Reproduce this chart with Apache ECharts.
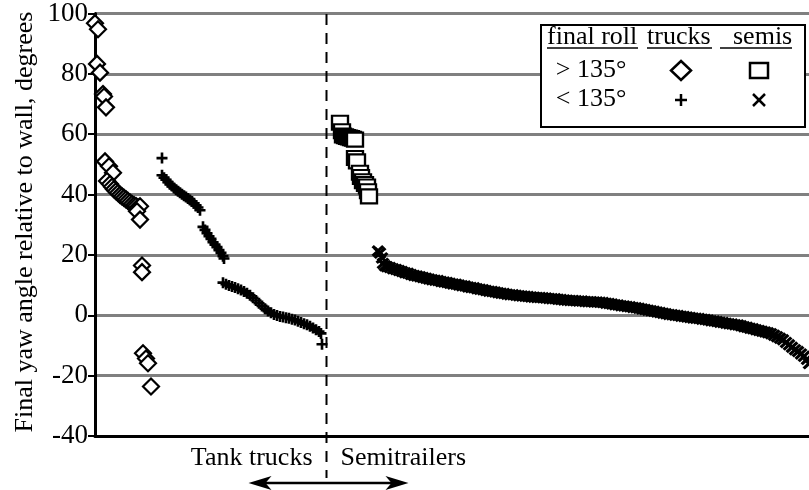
<!DOCTYPE html>
<html>
<head>
<meta charset="utf-8">
<script src="https://cdn.jsdelivr.net/npm/echarts@6/dist/echarts.min.js"></script>
<style>
  html, body { margin: 0; padding: 0; background: #fff; }
  #chart { width: 809px; height: 490px; }
</style>
</head>
<body>
<div id="chart"></div>
<script>
// x = case rank (sorted by yaw angle), y = final yaw angle, degrees
const yTicks = [-40, -20, 0, 20, 40, 60, 80, 100];

// tank trucks, final roll > 135
const truckHighRoll = [
  [0, 96.8], [3, 94.8], [2, 83.3], [5, 80.4], [8, 73.3], [9, 72.5], [11, 68.9],
  [10, 51], [14, 49.4], [18, 47.2], [12, 44.5], [15, 43.5], [17, 42.6], [19, 41.8],
  [21, 41.1], [23, 40.5], [25, 39.9], [27, 39.4], [29, 38.9], [31, 38.4], [33, 37.9],
  [35, 37.4], [37, 36.9], [39, 36.5], [41, 36.2], [43, 35.8], [45, 36.1], [42, 34.5],
  [45, 31.7], [47, 16.5], [47, 14.3], [48, -12.6], [51, -14.3], [53, -15.9], [56, -23.6]
];

// tank trucks, final roll < 135
const truckLowRoll = [
  [67, 52.1],
  [67, 46.4], [69, 45.6], [71, 44.9], [73, 44.1], [75, 43.4], [77, 42.8], [79, 42.2],
  [81, 41.6], [83, 41.1], [85, 40.6], [87, 40.1], [89, 39.6], [91, 39.2], [93, 38.7],
  [95, 38.2], [97, 37.7], [99, 37.1], [101, 36.4], [103, 35.7], [105, 34.8],
  [108, 29.3], [110, 28.3], [112, 27.2], [114, 26.2], [116, 25.3], [118, 24.2],
  [120, 23.4], [122, 22.6], [124, 21.6], [126, 20.7], [128, 19.6], [129, 18.8],
  [128, 10.8], [131, 10.3], [134, 9.9], [137, 9.5], [140, 9.2], [143, 8.8], [146, 8.4],
  [149, 7.9], [152, 7.3], [155, 6.6], [158, 5.8], [161, 4.9], [164, 4.0], [167, 3.1],
  [170, 2.2], [173, 1.4], [176, 0.8], [179, 0.3], [182, -0.1], [185, -0.4], [188, -0.6],
  [191, -0.8], [194, -1.0], [197, -1.3], [200, -1.6], [203, -2.0], [206, -2.4],
  [209, -2.8], [212, -3.1], [215, -3.6], [218, -4.2], [221, -4.8], [224, -5.4],
  [226, -6.0], [227, -9.6]
];

// semitrailers, final roll > 135
const semiHighRoll = [
  [245, 63.8], [247, 61.0], [248, 59.6], [250, 59.3], [252, 59.1], [254, 58.9],
  [256, 58.7], [258, 58.5], [260, 58.2], [260, 52.1], [262, 51.0], [265, 47.2],
  [266, 45.8], [268, 44.4], [270, 43.5], [272, 42.7], [273, 41.1], [274, 39.4]
];

// semitrailers, final roll < 135
const semiLowRoll = [
  [283, 21.3], [285, 20.6], [287, 19.0], [288, 17.2], [290, 16.4], [292, 16.1],
  [295, 15.8], [298, 15.4], [301, 15.2], [304, 14.8], [307, 14.5], [310, 14.1],
  [313, 13.9], [316, 13.5], [319, 13.2], [322, 13.0], [325, 12.8], [328, 12.5],
  [331, 12.3], [334, 12.0], [337, 11.8], [340, 11.6], [343, 11.5], [346, 11.2],
  [349, 11.0], [352, 10.9], [355, 10.6], [358, 10.4], [361, 10.3], [364, 10.0],
  [367, 9.8], [370, 9.7], [373, 9.4], [376, 9.2], [379, 9.1], [382, 8.8],
  [385, 8.6], [388, 8.5], [391, 8.2], [394, 8.0], [397, 7.9], [400, 7.7],
  [403, 7.5], [406, 7.3], [409, 7.2], [412, 7.0], [415, 6.8], [418, 6.8],
  [421, 6.6], [424, 6.5], [427, 6.4], [430, 6.3], [433, 6.2], [436, 6.1],
  [439, 6.0], [442, 5.9], [445, 5.9], [448, 5.8], [451, 5.7], [454, 5.6],
  [457, 5.5], [460, 5.5], [463, 5.3], [466, 5.2], [469, 5.1], [472, 5.0],
  [475, 4.9], [478, 4.9], [481, 4.8], [484, 4.7], [487, 4.7], [490, 4.6],
  [493, 4.5], [496, 4.5], [499, 4.4], [502, 4.4], [505, 4.3], [508, 4.2],
  [511, 4.0], [514, 3.9], [517, 3.7], [520, 3.5], [523, 3.4], [526, 3.2],
  [529, 3.1], [532, 2.9], [535, 2.8], [538, 2.6], [541, 2.5], [544, 2.3],
  [547, 2.1], [550, 1.9], [553, 1.7], [556, 1.5], [559, 1.3], [562, 1.1],
  [565, 0.9], [568, 0.7], [571, 0.5], [574, 0.3], [577, 0.2], [580, 0.0],
  [583, -0.1], [586, -0.3], [589, -0.4], [592, -0.6], [595, -0.7], [598, -0.9],
  [601, -1.0], [604, -1.1], [607, -1.3], [610, -1.4], [613, -1.6], [616, -1.8],
  [619, -1.9], [622, -2.1], [625, -2.3], [628, -2.4], [631, -2.6], [634, -2.8],
  [637, -2.9], [640, -3.1], [643, -3.2], [646, -3.5], [649, -3.8], [652, -4.0],
  [655, -4.3], [658, -4.5], [661, -4.8], [664, -5.0], [667, -5.3], [670, -5.5],
  [673, -5.8], [676, -6.1], [679, -6.6], [682, -7.1], [685, -7.6], [688, -8.1],
  [691, -9.0], [694, -9.8], [697, -10.6], [700, -11.4], [703, -12.0], [706, -12.8],
  [709, -13.6], [712, -14.6], [714, -16.0]
];

const splitRank = 231; // boundary between tank trucks and semitrailers

const FONT = '"Liberation Serif", "Times New Roman", serif';
const plusPath = 'path://M3.8,0H6.2V3.8H10V6.2H6.2V10H3.8V6.2H0V3.8H3.8Z';
const crossPath = 'path://M0,1.8L1.8,0L5,3.2L8.2,0L10,1.8L6.8,5L10,8.2L8.2,10L5,6.8L1.8,10L0,8.2L3.2,5Z';

var chart = echarts.init(document.getElementById('chart'), null, { renderer: 'canvas' });

var option = {
  animation: false,
  backgroundColor: '#fff',
  grid: { left: 95, right: 0, top: 12, bottom: 54 },
  xAxis: {
    type: 'value',
    min: 0,
    max: 714,
    axisLine: { show: true, onZero: false, lineStyle: { color: '#000', width: 3 } },
    axisTick: { show: false },
    axisLabel: { show: false },
    splitLine: { show: false }
  },
  yAxis: {
    type: 'value',
    min: yTicks[0],
    max: yTicks[yTicks.length - 1],
    interval: 20,
    axisLine: { show: true, lineStyle: { color: '#000', width: 3 } },
    axisTick: { show: true, length: 7, lineStyle: { color: '#000', width: 2 } },
    axisLabel: { margin: 7, color: '#000', fontFamily: FONT, fontSize: 27 },
    splitLine: { show: true, lineStyle: { color: '#808080', width: 3 } }
  },
  series: [
    {
      name: 'trucks > 135',
      type: 'scatter',
      symbol: 'diamond',
      symbolSize: [16, 16],
      itemStyle: { color: '#fff', borderColor: '#000', borderWidth: 2.2, opacity: 1 },
      data: truckHighRoll
    },
    {
      name: 'trucks < 135',
      type: 'scatter',
      symbol: plusPath,
      symbolSize: 11,
      itemStyle: { color: '#000', opacity: 1 },
      data: truckLowRoll
    },
    {
      name: 'semis > 135',
      type: 'scatter',
      symbol: 'rect',
      symbolSize: [16, 14],
      itemStyle: { color: '#fff', borderColor: '#000', borderWidth: 2.2, opacity: 1 },
      data: semiHighRoll
    },
    {
      name: 'semis < 135',
      type: 'scatter',
      symbol: crossPath,
      symbolSize: [13, 12],
      itemStyle: { color: '#000', opacity: 1 },
      data: semiLowRoll
    }
  ]
};

chart.setOption(option);

// annotations: dashed split line, group labels, arrow, legend box, axis title
var sx = Math.round(chart.convertToPixel({ xAxisIndex: 0 }, splitRank)) + 0.5;
var txt = function (text, x, y, align, size) {
  return {
    type: 'text', z: 100, x: x, y: y,
    style: { text: text, fill: '#000', font: (size || 26) + 'px ' + FONT, align: align, verticalAlign: 'middle' }
  };
};
var line = function (x1, y1, x2, y2, w) {
  return { type: 'line', z: 100, shape: { x1: x1, y1: y1, x2: x2, y2: y2 }, style: { stroke: '#000', lineWidth: w } };
};

chart.setOption({
  graphic: [
    {
      type: 'line', z: 90,
      shape: { x1: sx, y1: 14, x2: sx, y2: 478 },
      style: { stroke: '#000', lineWidth: 2, lineDash: [11, 8] }
    },
    txt('Tank trucks', sx - 14, 458, 'right'),
    txt('Semitrailers', sx + 14, 458, 'left'),
    line(sx - 70, 483, sx + 74, 483, 2.5),
    {
      type: 'polygon', z: 100,
      shape: { points: [[sx - 78, 483], [sx - 55, 476], [sx - 61, 483], [sx - 55, 490]] },
      style: { fill: '#000' }
    },
    {
      type: 'polygon', z: 100,
      shape: { points: [[sx + 82, 483], [sx + 59, 476], [sx + 65, 483], [sx + 59, 490]] },
      style: { fill: '#000' }
    },
    {
      type: 'text', z: 100, x: 25, y: 222, rotation: Math.PI / 2,
      style: {
        text: 'Final yaw angle relative to wall, degrees', fill: '#000',
        font: '26px ' + FONT, align: 'center', verticalAlign: 'middle'
      }
    },
    // legend box
    {
      type: 'rect', z: 95,
      shape: { x: 541, y: 25, width: 264, height: 102 },
      style: { fill: '#fff', stroke: '#000', lineWidth: 2 }
    },
    txt('final roll', 547, 37, 'left'),
    txt('trucks', 647, 37, 'left'),
    txt('semis', 733, 37, 'left'),
    line(547, 48, 638, 48, 1.5),
    line(647, 48, 712, 48, 1.5),
    line(720, 48, 792, 48, 1.5),
    txt('> 135°', 591, 70, 'center'),
    txt('< 135°', 591, 99, 'center'),
    {
      type: 'polygon', z: 100,
      shape: { points: [[681, 61], [691, 70.5], [681, 80], [671, 70.5]] },
      style: { fill: '#fff', stroke: '#000', lineWidth: 2.5 }
    },
    {
      type: 'rect', z: 100,
      shape: { x: 750, y: 63, width: 18, height: 15 },
      style: { fill: '#fff', stroke: '#000', lineWidth: 2.5 }
    },
    line(675, 100, 687, 100, 2.5),
    line(681, 94, 681, 106, 2.5),
    line(753, 94, 765, 106, 2.5),
    line(753, 106, 765, 94, 2.5)
  ]
});
</script>
</body>
</html>
